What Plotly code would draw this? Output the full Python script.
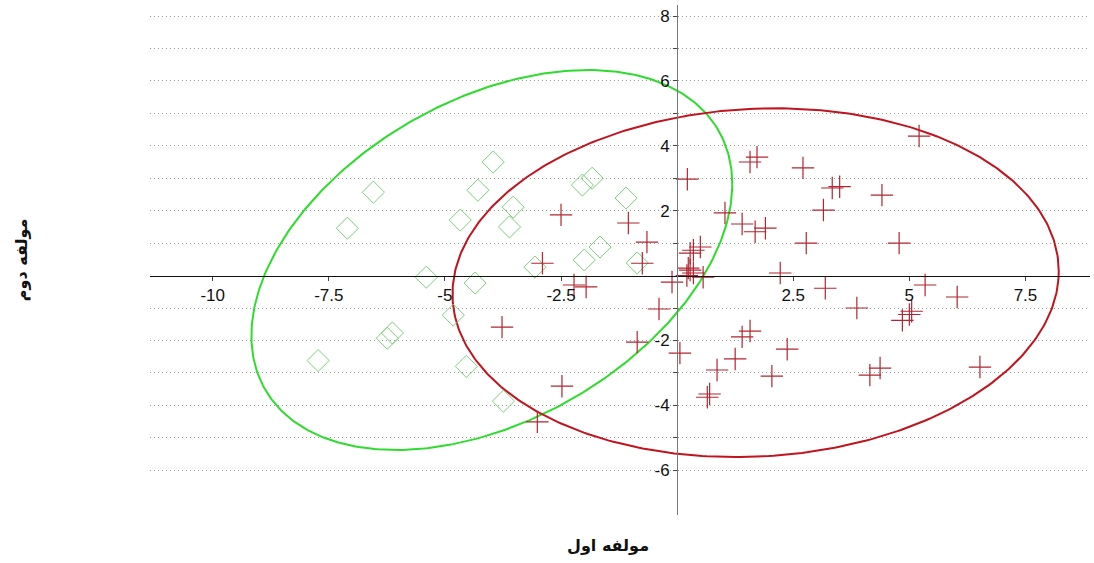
import numpy as np
import plotly.graph_objects as go

# ---- data ----
green_x = [-7.73, -7.10, -6.54, -6.24, -6.13, -5.40, -4.82, -4.67, -4.54, -4.35, -4.29,
           -3.96, -3.53, -3.61, -3.74, -3.06, -2.04, -1.83, -2.00, -1.66, -1.10, -0.86]
green_y = [-2.62, 1.46, 2.57, -1.93, -1.77, -0.05, -1.22, 1.71, -2.80, -0.23, 2.63,
           3.50, 2.11, 1.50, -3.87, 0.26, 2.79, 3.00, 0.48, 0.88, 2.39, 0.39]

red_x = [-2.50, -1.05, -0.65, -2.90, -0.75, -2.22, -1.96, -3.77, -2.48, -3.01, -0.86,
         -0.39, -0.11, 0.22, 1.57, 1.72, 2.71, 3.34, 3.50, 3.15, 1.03, 1.40, 1.68, 1.90,
         2.78, 0.50, 0.35, 0.28, 0.24, 0.35, 2.22, 0.28, 0.21, 0.56, 3.19, 3.87, 0.06,
         1.57, 1.40, 1.25, 0.86, 2.37, 2.04, 0.65, 0.70, 4.15, 4.37, 5.21, 4.41, 4.78,
         5.34, 5.05, 4.85, 5.00, 6.03, 6.52]
red_y = [1.87, 1.62, 1.03, 0.38, 0.38, -0.29, -0.35, -1.59, -3.41, -4.51, -2.05,
         -1.03, -0.20, 2.97, 3.50, 3.65, 3.32, 2.70, 2.74, 2.02, 1.93, 1.59, 1.35, 1.46,
         1.00, 0.88, 0.78, 0.69, 0.23, 0.08, 0.08, 0.17, 0.00, -0.05, -0.39, -1.00, -2.39,
         -1.71, -1.89, -2.57, -2.91, -2.27, -3.10, -3.75, -3.65, -3.07, -2.85, 4.30, 2.48, 1.00,
         -0.29, -1.10, -1.38, -1.20, -0.66, -2.82]

# ellipse parameters: center and covariance-like shape matrix
green_center = (-3.99, 0.48)
green_shape = [[26.8, 12.1], [12.1, 34.3]]
red_center = (1.69, -0.22)
red_shape = [[42.6, 2.3], [2.3, 28.9]]

x_ticks = [-10, -7.5, -5, -2.5, 2.5, 5, 7.5]
y_grid = [-6, -5, -4, -3, -2, -1, 1, 2, 3, 4, 5, 6, 7, 8]

x_range = [-11.35, 8.89]
y_range = [-7.38, 8.34]


def ellipse(center, shape, n=400):
    t = np.linspace(0, 2 * np.pi, n)
    L = np.linalg.cholesky(np.array(shape))
    pts = L @ np.vstack([np.cos(t), np.sin(t)])
    return center[0] + pts[0], center[1] + pts[1]


fig = go.Figure()

gx, gy = ellipse(green_center, green_shape)
rx, ry = ellipse(red_center, red_shape)
fig.add_trace(go.Scatter(x=gx, y=gy, mode="lines", line=dict(color="#2edc2e", width=2),
                         hoverinfo="skip", showlegend=False))
fig.add_trace(go.Scatter(x=rx, y=ry, mode="lines", line=dict(color="#c0141e", width=2),
                         hoverinfo="skip", showlegend=False))

fig.add_trace(go.Scatter(x=green_x, y=green_y, mode="markers", showlegend=False,
                         marker=dict(symbol="diamond-open", size=17, color="#7ccf7c",
                                     line=dict(color="#7ccf7c", width=1))))
fig.add_trace(go.Scatter(x=red_x, y=red_y, mode="markers", showlegend=False,
                         marker=dict(symbol="cross-thin", size=16, color="#b22630",
                                     line=dict(color="#b22630", width=1.2))))

x_pos = (0 - y_range[0]) / (y_range[1] - y_range[0])
y_pos = (0 - x_range[0]) / (x_range[1] - x_range[0])

fig.update_layout(
    width=1094, height=563,
    margin=dict(l=150, r=4, t=5, b=48),
    paper_bgcolor="white", plot_bgcolor="white",
    font=dict(family="Liberation Sans, Arial", size=17, color="#111"),
    xaxis=dict(range=x_range, anchor="free", position=x_pos,
               showgrid=False, zeroline=False, showline=True, linecolor="#111", linewidth=1,
               tickvals=x_ticks, ticktext=[("%g" % v) for v in x_ticks],
               ticks="outside", ticklen=4, tickcolor="#444"),
    yaxis=dict(range=y_range, anchor="free", position=y_pos,
               showgrid=True, gridcolor="#999999", griddash="1px,3px", gridwidth=1,
               zeroline=False, showline=True, linecolor="#777", linewidth=1,
               tickvals=y_grid,
               ticktext=[("%g" % v) if v % 2 == 0 else "" for v in y_grid],
               ticks="outside", ticklen=4, tickcolor="#444"),
    annotations=[
        dict(text="<b>مولفه اول</b>", xref="paper", yref="paper", x=0.487, y=-0.06,
             yanchor="middle", xanchor="center", showarrow=False,
             font=dict(family="DejaVu Sans", size=16, color="#111")),
        dict(text="<b>مولفه دوم</b>", xref="paper", yref="paper", x=-0.137, y=0.5,
             textangle=-90, xanchor="center", yanchor="middle", showarrow=False,
             font=dict(family="DejaVu Sans", size=16, color="#111")),
    ],
)

fig.write_html("out.html", config={"displayModeBar": False},
               post_script="document.body.style.margin='0px';")
